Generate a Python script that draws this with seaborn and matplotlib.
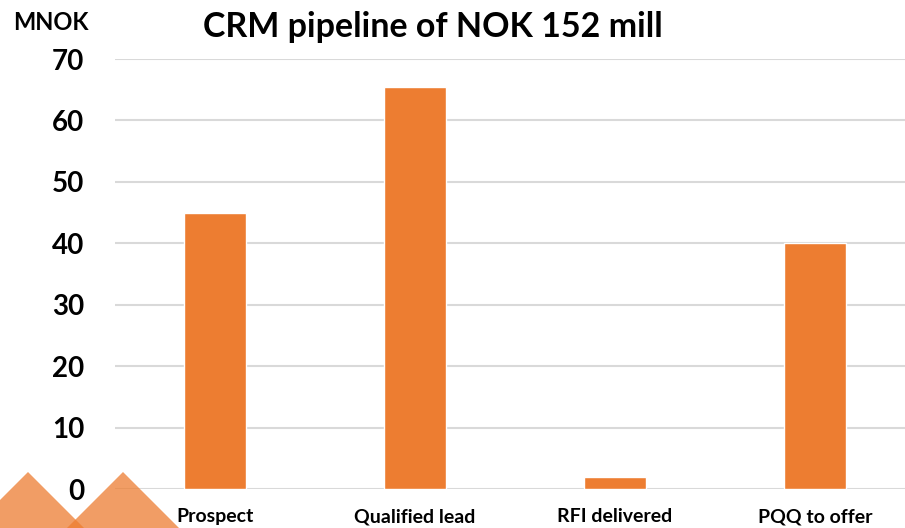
import matplotlib
matplotlib.use("Agg")
import matplotlib.pyplot as plt
import pandas as pd
import seaborn as sns
from matplotlib import font_manager
from matplotlib.patches import Polygon

# ---------------------------------------------------------------------------
# Data
# ---------------------------------------------------------------------------
STAGES = ["Prospect", "Qualified lead", "RFI delivered", "PQQ to offer"]
MNOK = [45, 65.4, 2, 40]
Y_TICKS = [0, 10, 20, 30, 40, 50, 60, 70]

TITLE = "CRM pipeline of NOK 152 mill"
UNIT_LABEL = "MNOK"
BAR_COLOR = "#ED7D31"
GRID_COLOR = "#D9D9D9"

W, H = 905, 528


def pick_bold_font(preferred=("Lato", "Open Sans", "Liberation Sans", "DejaVu Sans")):
    """Find a real (non-condensed) bold face, since name matching picks odd variants."""
    for name in preferred:
        for f in font_manager.fontManager.ttflist:
            if f.name != name or f.style != "normal":
                continue
            weight = f.weight if isinstance(f.weight, int) else 700 * (f.weight == "bold")
            fname = f.fname.lower()
            if weight == 700 and f.stretch == "normal" and "condensed" not in fname \
                    and "narrow" not in fname:
                return f.fname
    return None


sns.set_theme(style="white")
bold_path = pick_bold_font()
if bold_path:
    family = font_manager.FontProperties(fname=bold_path).get_name()
else:
    family = "DejaVu Sans"
plt.rcParams["font.family"] = [family, "DejaVu Sans"]
plt.rcParams["font.weight"] = "bold"


def fp(size):
    if bold_path:
        return font_manager.FontProperties(fname=bold_path, size=size)
    return font_manager.FontProperties(family="DejaVu Sans", weight="bold", size=size)


df = pd.DataFrame({"stage": STAGES, "value": MNOK})

fig = plt.figure(figsize=(W / 100, H / 100), dpi=100)
# axes placed in pixel terms: left 115, bottom at y=489, top at y=59
ax = fig.add_axes([115 / W, (H - 489) / H, 790 / W, 430 / H])

sns.barplot(data=df, x="stage", y="value", color=BAR_COLOR, width=0.31,
            saturation=1, ax=ax, zorder=3)

ax.set_xlim(-0.5, 3.45)
ax.set_ylim(0, 70)
ax.set_yticks(Y_TICKS)
ax.yaxis.grid(True, color=GRID_COLOR, linewidth=1.5, zorder=0)
ax.set_axisbelow(True)
sns.despine(ax=ax, left=True, bottom=True, top=True, right=True)
ax.set_xlabel("")
ax.set_ylabel("")
ax.tick_params(axis="y", length=0, pad=22)
ax.tick_params(axis="x", length=0, pad=14)
for lbl in ax.get_yticklabels():
    lbl.set_fontproperties(fp(20))
    lbl.set_color("black")
for lbl in ax.get_xticklabels():
    lbl.set_fontproperties(fp(14))
    lbl.set_color("black")

fig.text(433 / W, 1 - 27 / H, TITLE, ha="center", va="center",
         fontproperties=fp(24.5), color="black")
fig.text(51 / W, 1 - 22 / H, UNIT_LABEL, ha="center", va="center",
         fontproperties=fp(17), color="black")

# decorative slide triangles in the bottom-left corner
for apex_x in (28, 123):
    pts = [(apex_x - 70, 542), (apex_x, 472), (apex_x + 70, 542)]
    pts = [(x / W, 1 - y / H) for x, y in pts]
    fig.add_artist(Polygon(pts, closed=True, transform=fig.transFigure,
                           facecolor=BAR_COLOR, alpha=0.75, edgecolor="none",
                           zorder=5))

fig.savefig("out.png", dpi=100)
